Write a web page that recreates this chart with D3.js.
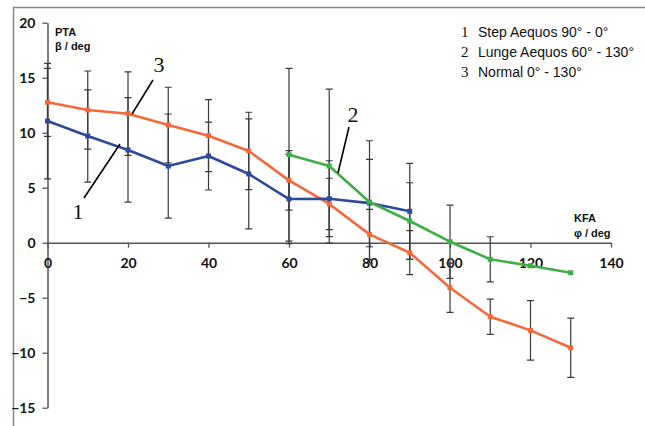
<!DOCTYPE html>
<html>
<head>
<meta charset="utf-8">
<script src="https://cdn.jsdelivr.net/npm/d3@7"></script>
<style>
    body { margin: 0; background: #fff; }
    svg { display: block; }
    .tick-label { font-family: Lato, "Liberation Sans", sans-serif; font-weight: 700; font-size: 14px; fill: #111; }
    .axis-title { font-family: "Liberation Sans", Arial, sans-serif; font-weight: 700; font-size: 11px; fill: #111; }
    .legend-text { font-family: "Liberation Sans", Arial, sans-serif; font-size: 14px; fill: #111; }
    .serif-num { font-family: "Liberation Serif", "Times New Roman", serif; fill: #111; }
</style>
</head>
<body>
<div id="chart"></div>
<script>
// knee flexion angle (deg) for each series
const anglesStep = [0, 10, 20, 30, 40, 50, 60, 70, 80, 90];
const anglesNormal = [0, 10, 20, 30, 40, 50, 60, 70, 80, 90, 100, 110, 120, 130];
const anglesLunge = [60, 70, 80, 90, 100, 110, 120, 130];

// mean PTA values (deg)
const meanStep = [11.06, 9.7, 8.43, 6.97, 7.88, 6.25, 3.97, 4.0, 3.6, 2.85];
const meanNormal = [12.76, 12.06, 11.73, 10.7, 9.73, 8.34, 5.67, 3.52, 0.76, -0.91, -4.09, -6.73, -7.97, -9.55];
const meanLunge = [8.0, 6.97, 3.7, 1.97, 0.09, -1.51, -2.1, -2.73];

// standard deviations (null = no error bar drawn)
const sdStep = [5.25, 4.2, 4.75, 4.73, 3.09, 5.0, 4.06, 3.45, 3.97, 4.36];
const sdNormal = [3.09, 3.55, 3.8, 3.43, 3.27, 3.52, 2.7, 2.34, 2.27, 2.0, 2.24, 1.6, 2.7, 2.7];
const sdLunge = [7.85, 7.0, 5.57, 3.48, 3.33, 2.05, null, null];

const xTicks = [0, 20, 40, 60, 80, 100, 120, 140];
const yTicks = [-15, -10, -5, 0, 5, 10, 15, 20];

const legendNumbers = ['1', '2', '3'];
const legendLabels = ['Step Aequos 90° - 0°', 'Lunge Aequos 60° - 130°', 'Normal 0° - 130°'];

const width = 645, height = 426;

// build one record list per series
const toPoints = (xs, ys, sds) => xs.map((x, i) => ({x: x, y: ys[i], sd: sds[i]}));
const series = [
    {name: 'normal', color: '#f26a3c', points: toPoints(anglesNormal, meanNormal, sdNormal)},
    {name: 'step', color: '#2e4b9b', points: toPoints(anglesStep, meanStep, sdStep)},
    {name: 'lunge', color: '#3fae47', points: toPoints(anglesLunge, meanLunge, sdLunge)}
];

const svg = d3.select('#chart').append('svg')
    .attr('width', width)
    .attr('height', height);

// outer frame (only top and left edges are visible in the picture)
svg.append('path')
    .attr('d', `M13.5,${height} V7.5 H${width}`)
    .attr('fill', 'none')
    .attr('stroke', '#888')
    .attr('stroke-width', 1.5);

const x = d3.scaleLinear().domain([0, 140]).range([47.5, 611]);
const y = d3.scaleLinear().domain([-15, 20]).range([407.7, 22.7]);

// y-axis, ticks pointing left
const yAxis = svg.append('g')
    .attr('transform', `translate(${x(0)},0)`)
    .call(d3.axisLeft(y).tickValues(yTicks).tickSize(5).tickSizeOuter(0).tickPadding(7));

// x-axis sits on y = 0, ticks pointing down
const xAxis = svg.append('g')
    .attr('transform', `translate(0,${y(0)})`)
    .call(d3.axisBottom(x).tickValues(xTicks).tickSize(5).tickSizeOuter(0).tickPadding(14));

[xAxis, yAxis].forEach(ax => {
    ax.select('.domain').attr('stroke', '#555').attr('stroke-width', 1.5);
    ax.selectAll('.tick line').attr('stroke', '#555').attr('stroke-width', 1.3);
    ax.selectAll('.tick text').attr('class', 'tick-label');
});
yAxis.selectAll('.tick text').attr('dy', '0.35em');
xAxis.selectAll('.tick text').attr('dy', '0.45em');

// axis titles
const titles = [
    {t: 'PTA', x: 55, y: 36},
    {t: 'β / deg', x: 55, y: 50},
    {t: 'KFA', x: 574, y: 222},
    {t: 'φ / deg', x: 574, y: 237}
];
svg.selectAll('text.axis-title')
    .data(titles)
    .join('text')
    .attr('class', 'axis-title')
    .attr('x', d => d.x)
    .attr('y', d => d.y)
    .text(d => d.t);

// error bars, drawn behind the lines
const bars = svg.append('g').attr('class', 'error-bars');
const capW = 3.5;
series.forEach(s => {
    const withSd = s.points.filter(p => p.sd !== null);
    bars.selectAll(null)
        .data(withSd)
        .join('path')
        .attr('d', p => {
            const cx = x(p.x), top = y(p.y + p.sd), bot = y(p.y - p.sd);
            return `M${cx},${top} V${bot} M${cx - capW},${top} H${cx + capW} M${cx - capW},${bot} H${cx + capW}`;
        })
        .attr('fill', 'none')
        .attr('stroke', '#3a3a3a')
        .attr('stroke-width', 1.2);
});

// lines and markers
const line = d3.line().x(p => x(p.x)).y(p => y(p.y));
series.forEach(s => {
    svg.append('path')
        .datum(s.points)
        .attr('d', line)
        .attr('fill', 'none')
        .attr('stroke', s.color)
        .attr('stroke-width', 2.6)
        .attr('stroke-linejoin', 'round');

    svg.append('g').selectAll('rect')
        .data(s.points)
        .join('rect')
        .attr('x', p => x(p.x) - 2.5)
        .attr('y', p => y(p.y) - 2.5)
        .attr('width', 5)
        .attr('height', 5)
        .attr('fill', s.color);
});

// numbered callouts with leader lines
const callouts = [
    {num: '1', tx: 78, ty: 219, x1: 84, y1: 198, x2: 120, y2: 144},
    {num: '3', tx: 159, ty: 72, x1: 153, y1: 80, x2: 132, y2: 114},
    {num: '2', tx: 353, ty: 122, x1: 349, y1: 127, x2: 338, y2: 173}
];
callouts.forEach(c => {
    svg.append('line')
        .attr('x1', c.x1).attr('y1', c.y1)
        .attr('x2', c.x2).attr('y2', c.y2)
        .attr('stroke', '#000')
        .attr('stroke-width', 1.6);
    svg.append('text')
        .attr('class', 'serif-num')
        .attr('x', c.tx)
        .attr('y', c.ty)
        .attr('text-anchor', 'middle')
        .attr('font-size', 22)
        .text(c.num);
});

// legend in top right
const legend = svg.append('g').attr('transform', 'translate(461,37)');
legendLabels.forEach((label, i) => {
    legend.append('text')
        .attr('class', 'serif-num')
        .attr('font-size', 15)
        .attr('x', 0)
        .attr('y', i * 20)
        .text(legendNumbers[i]);
    legend.append('text')
        .attr('class', 'legend-text')
        .attr('x', 17)
        .attr('y', i * 20)
        .text(label);
});
</script>
</body>
</html>
